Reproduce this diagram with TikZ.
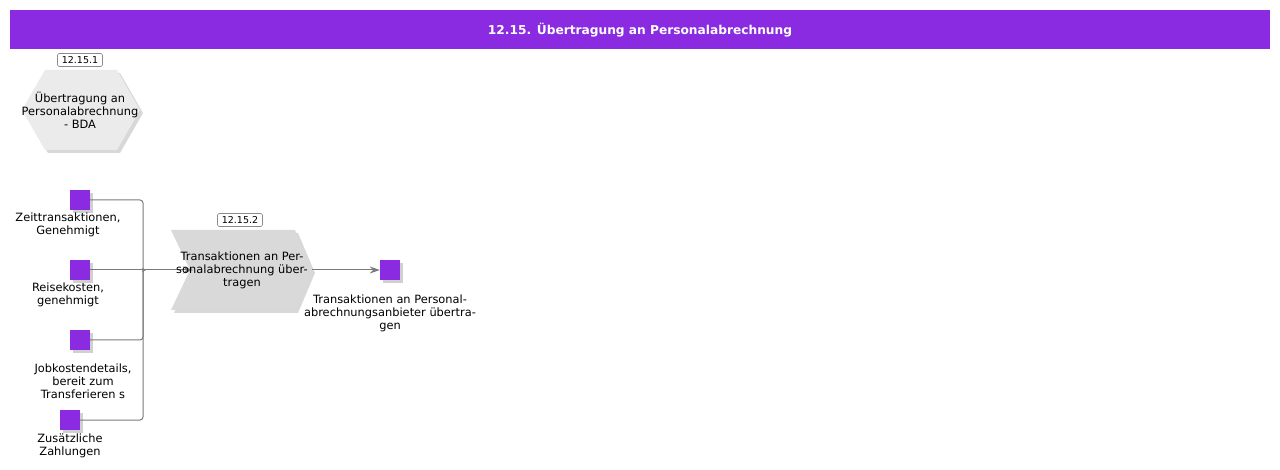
\documentclass[tikz,border=0pt]{standalone}
\usepackage{fontspec}
\setmainfont{DejaVu Sans}
\usetikzlibrary{arrows.meta,shadows}
\definecolor{hdr}{HTML}{8A2BE2}
\definecolor{sq}{HTML}{8A2BE2}
\definecolor{hexfill}{HTML}{EBEBEB}
\definecolor{chevfill}{HTML}{D9D9D9}
\definecolor{conncol}{HTML}{7A7A7A}
\tikzset{
  sqbox/.style={draw=none,fill=sq,minimum size=20pt,inner sep=0pt,
    drop shadow={shadow xshift=3pt,shadow yshift=-3pt,opacity=0.3,fill=black!60}},
  lbl/.style={align=center,font=\fontsize{11.4}{13}\selectfont,inner sep=0pt},
  idbox/.style={draw=black!45,fill=white,rounded corners=1.5pt,line width=0.6pt,
    minimum width=45pt,minimum height=13pt,inner sep=0pt,font=\fontsize{9.5}{10}\selectfont},
  conn/.style={draw=conncol,line width=1pt},
  shd/.style={fill=black!30,opacity=0.5}
}
\begin{document}
\begin{tikzpicture}[x=1pt,y=-1pt]
\useasboundingbox (0,0) rectangle (1280,470);
\fill[white] (0,0) rectangle (1280,470);
% header
\fill[hdr] (10,10) rectangle (1270,49);
\node[text=white,font=\bfseries\fontsize{12.2}{14}\selectfont] (title) at (640,30) {12.15. Übertragung an Personalabrechnung};
% hexagon
\fill[shd] (25,113)--(48,73)--(120,73)--(143,113)--(120,153)--(48,153)--cycle;
\fill[hexfill] (22,110)--(45,70)--(117,70)--(140,110)--(117,150)--(45,150)--cycle;
\node[lbl] (hex) at (80,110) {Übertragung an\\Personalabrechnung\\- BDA};
\node[idbox] (id1) at (80,60) {12.15.1};
% chevron
\fill[shd] (174,233)--(298,233)--(315,273)--(298,313)--(174,313)--(193,273)--cycle;
\fill[chevfill] (171,230)--(295,230)--(312,270)--(295,310)--(171,310)--(190,270)--cycle;
\coordinate (cin) at (193,270);
\coordinate (cout) at (312,270);
\node[idbox] (id2) at (240,220) {12.15.2};
% squares
\node[sqbox] (s1) at (80,200) {};
\node[lbl,anchor=north] (t1) at (68,213) {Zeittransaktionen,\\Genehmigt};
\node[sqbox] (s2) at (80,270) {};
\node[lbl,anchor=north] (t2) at (68,283) {Reisekosten,\\genehmigt};
\node[sqbox] (s3) at (80,340) {};
\node[lbl,anchor=north] (t3) at (83,364) {Jobkostendetails,\\bereit zum\\Transferieren s};
\node[sqbox] (s4) at (70,420) {};
\node[lbl,anchor=north] (t4) at (70,434) {Zusätzliche\\Zahlungen};
\node[sqbox] (s5) at (390,270) {};
\node[lbl,anchor=north] (t5) at (390,295) {Transaktionen an Personal-\\abrechnungsanbieter übertra-\\gen};
% connectors
\coordinate (j) at (143,270);
\draw[conn,rounded corners=3pt] (s1.east) -| (j);
\draw[conn,rounded corners=3pt] (s3.east) -| (j);
\draw[conn,rounded corners=3pt] (s4.east) -| (j);
\draw[conn,-{Stealth[length=4pt,width=4pt]}] (s2.east) -- ([xshift=3pt]j);
\draw[conn,-{Stealth[length=10pt,width=7pt]}] (j) -- (cin);
\node[lbl] (chev) at (242,270) {Transaktionen an Per-\\sonalabrechnung über-\\tragen};
\draw[conn,-{Stealth[length=10pt,width=7pt]}] (cout) -- (s5.west);
\end{tikzpicture}
\end{document}
